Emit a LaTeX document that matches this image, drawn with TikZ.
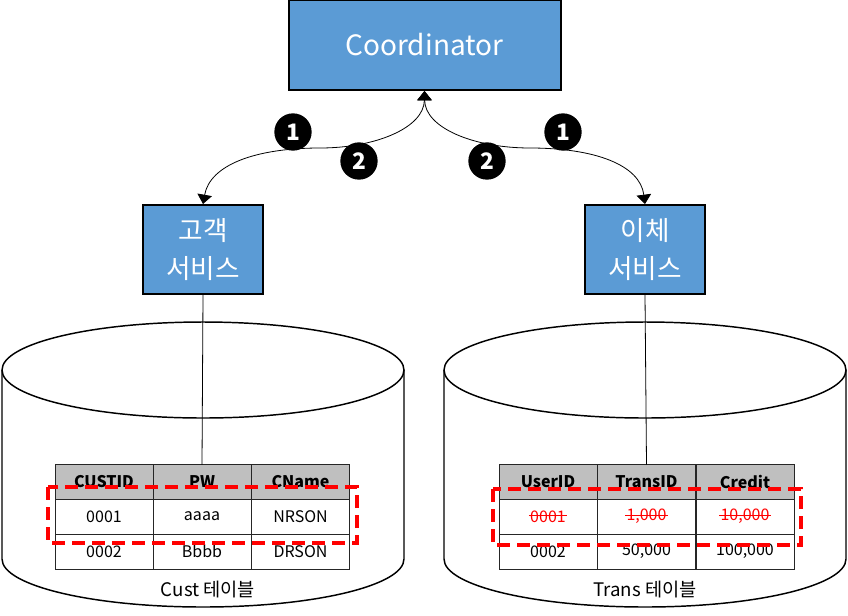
\documentclass[tikz,border=0pt]{standalone}
\usepackage{fontspec}
\setmainfont{Noto Sans CJK KR}
\usetikzlibrary{arrows.meta,calc,positioning}
\definecolor{boxblue}{HTML}{5B9BD5}
\definecolor{headgray}{HTML}{BFBFBF}
\newcommand*{\cylRx}{201}
\newcommand*{\cylRy}{48}
\newcommand*{\cylTop}{370}
\newcommand*{\cylBot}{559}

\tikzset{
	svc/.style={draw=black,line width=1.5pt,fill=boxblue,text=white,align=center,inner sep=0pt,font=\fontsize{20}{29}\selectfont},
	num/.style={circle,fill=black,text=white,minimum size=28pt,inner sep=0pt,font=\fontsize{17}{17}\selectfont\bfseries},
	cell/.style={draw=black!85,line width=0.7pt,minimum width=73.5pt,minimum height=26.25pt,inner sep=0pt,outer sep=0pt,font=\fontsize{12}{12}\selectfont},
	headcell/.style={cell,fill=headgray,font=\fontsize{12}{12}\selectfont\bfseries},
	gone/.style={text=red,inner sep=0pt,font=\fontsize{12}{12}\selectfont},
	cyl/.style={line width=1.1pt,fill=white},
	mark box/.style={draw=red,line width=2.4pt,dash pattern=on 10pt off 5pt},
	link/.style={{Triangle[width=11pt,length=7pt]}-{Triangle[width=11pt,length=7pt]},line width=0.6pt}
}

\begin{document}
\begin{tikzpicture}[x=0.75pt,y=-0.75pt]
	
	\useasboundingbox (0,0) rectangle (848,615);
	
	% databases
	\foreach \cx in {203,645} {
		\filldraw[cyl] (\cx-\cylRx,\cylTop) -- (\cx-\cylRx,\cylBot) arc[start angle=180,end angle=0,x radius=\cylRx,y radius=\cylRy] -- (\cx+\cylRx,\cylTop);
		\draw[cyl] (\cx,\cylTop) ellipse [x radius=\cylRx,y radius=\cylRy];
	}
	
	\node[svc,minimum width=204pt,minimum height=67.5pt,font=\fontsize{21}{24}\selectfont] (coord) at (424.5,45) {Coordinator};
	\node[svc,minimum width=90pt,minimum height=66.75pt] (cust) at (203,249.5) {고객\\서비스};
	\node[svc,minimum width=90pt,minimum height=66.75pt] (trans) at (645,249.5) {이체\\서비스};
	
	% Cust table
	\foreach \x/\h/\p/\q [count=\i] in {104/CUSTID/0001/0002,202/PW/aaaa/Bbbb,300.5/CName/NRSON/DRSON} {
		\node[headcell] (cust-h\i) at (\x,482) {\h};
		\node[cell] (cust-a\i) at (\x,516.5) {\p};
		\node[cell] (cust-b\i) at (\x,551.5) {\q};
	}
	% Trans table
	\foreach \x/\h/\p/\q [count=\i] in {548/UserID/0001/0002,646.5/TransID/{1,000}/{50,000},745/Credit/{10,000}/{100,000}} {
		\node[headcell] (trans-h\i) at (\x,482) {\h};
		\node[cell] (trans-a\i) at (\x,516.5) {};
		\node[gone] (trans-t\i) at (trans-a\i) {\p};
		\draw[red,line width=0.7pt] ($(trans-t\i.west)+(-1,-1)$) -- ($(trans-t\i.east)+(1,-1)$);
		\node[cell] (trans-b\i) at (\x,551.5) {\q};
	}
	
	\node[font=\fontsize{14}{14}\selectfont] (cust-label) at (208,590) {Cust 테이블};
	\node[font=\fontsize{14}{14}\selectfont] (trans-label) at (645,590) {Trans 테이블};
	
	\draw[line width=0.6pt] (cust.south) -- (cust-h2.north);
	\draw[line width=0.6pt] (trans.south) -- (trans-h2.north);
	
	\draw[mark box] (48,487) rectangle (357,543);
	\draw[mark box] (493,489) rectangle (801,545);
	
	% calls
	\draw[link] (coord.south) .. controls (424,128) and (375,148) .. (320,148) .. controls (255,148) and (210,165) .. (cust.north);
	\draw[link] (coord.south) .. controls (425,128) and (474,148) .. (530,148) .. controls (595,148) and (640,165) .. (trans.north);
	
	\node[num] (l-one) at (293,132) {1};
	\node[num] (l-two) at (359,161) {2};
	\node[num] (r-two) at (487,161) {2};
	\node[num] (r-one) at (563,132) {1};
	
\end{tikzpicture}
\end{document}
